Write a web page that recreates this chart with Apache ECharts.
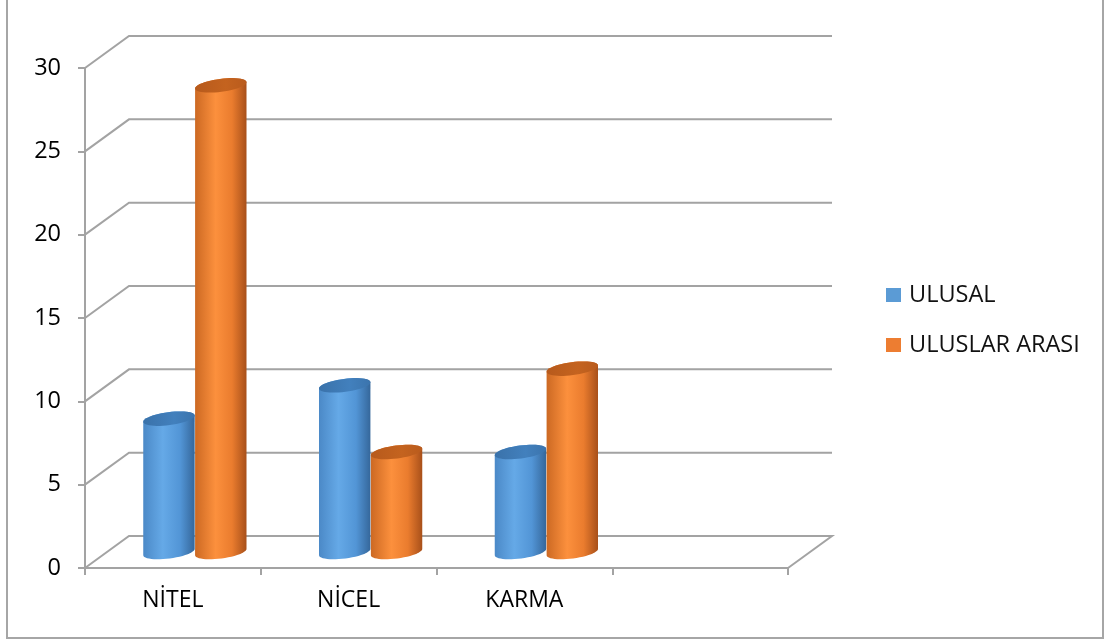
<!DOCTYPE html>
<html>
<head>
<meta charset="utf-8">
<script src="https://cdn.jsdelivr.net/npm/echarts@6/dist/echarts.min.js"></script>
<style>
  html, body { margin: 0; padding: 0; background: #ffffff; }
  #chart { width: 1112px; height: 641px; }
</style>
</head>
<body>
<div id="chart"></div>
<script>
// Study types and counts of national vs. international publications
const categories = ['NİTEL', 'NİCEL', 'KARMA', ''];
const ulusal = [8, 10, 6];
const uluslarArasi = [28, 6, 11];
const yTicks = [0, 5, 10, 15, 20, 25, 30];
const seriesNames = ['ULUSAL', 'ULUSLAR ARASI'];

// Oblique offset between the front plane and the back wall (pixels)
const DEPTH_X = 44;
const DEPTH_Y = -32;
const GRID_COLOR = '#a3a3a3';
const FONT = 'Open Sans';

const palettes = [
  {
    legend: '#5b9bd5',
    body: [[0, '#4b89c7'], [0.38, '#65a9e7'], [0.72, '#5295d6'], [1, '#35679b']],
    top: [[0, '#3a72aa'], [0.6, '#4280bd'], [1, '#3b74ad']]
  },
  {
    legend: '#ed7d31',
    body: [[0, '#cc6923'], [0.4, '#fc903d'], [0.72, '#ea7c2e'], [1, '#a8501a']],
    top: [[0, '#b75a1c'], [0.6, '#c4631f'], [1, '#b95b1d']]
  }
];

function grad(stops) {
  return new echarts.graphic.LinearGradient(0, 0, 1, 0,
    stops.map(s => ({ offset: s[0], color: s[1] })));
}

// Points on a rotated ellipse between parameters t0 and t1
function arc(cx, cy, a, b, rot, t0, t1, n) {
  const pts = [];
  const c = Math.cos(rot), s = Math.sin(rot);
  for (let i = 0; i <= n; i++) {
    const t = t0 + (t1 - t0) * i / n;
    const ex = a * Math.cos(t), ey = b * Math.sin(t);
    pts.push([cx + ex * c - ey * s, cy + ex * s + ey * c]);
  }
  return pts;
}

// Cylinder bar standing half way into the depth of the plot
function cylinderRenderer(seriesIndex) {
  const pal = palettes[seriesIndex];
  return function (params, api) {
    const idx = api.value(0);
    const val = api.value(1);
    const top = api.coord([idx, val]);
    const base = api.coord([idx, 0]);
    const band = api.size([1, 0])[0];
    const w = band * 0.295;
    const cx = top[0] + (seriesIndex === 0 ? -w / 2 : w / 2) + DEPTH_X / 2;
    const yTop = top[1] + DEPTH_Y / 2;
    const yBase = base[1] + DEPTH_Y / 2;
    const a = w / 2, b = 6.5, rot = -0.13;
    const body = arc(cx, yBase, a, b, rot, 0, Math.PI, 24)
      .concat(arc(cx, yTop, a, b, rot, Math.PI, 2 * Math.PI, 24));
    const cap = arc(cx, yTop, a, b, rot, 0, 2 * Math.PI, 48);
    return {
      type: 'group',
      children: [
        { type: 'polygon', shape: { points: body }, style: { fill: grad(pal.body) } },
        { type: 'polygon', shape: { points: cap }, style: { fill: grad(pal.top) } }
      ]
    };
  };
}

// Back wall gridlines with their diagonals to the front value axis
function wallRenderer(params, api) {
  const cs = params.coordSys;
  const v = api.value(1);
  const y = api.coord([0, v])[1];
  const left = cs.x, right = cs.x + cs.width;
  const pts = [[left, y], [left + DEPTH_X, y + DEPTH_Y], [right + DEPTH_X, y + DEPTH_Y]];
  if (v === 0) pts.push([right, y]);
  return {
    type: 'polyline',
    shape: { points: pts },
    style: { stroke: GRID_COLOR, lineWidth: 2, fill: 'none' }
  };
}

const chart = echarts.init(document.getElementById('chart'), null, { renderer: 'canvas' });

chart.setOption({
  animation: false,
  backgroundColor: '#ffffff',
  textStyle: { fontFamily: FONT },
  graphic: [{
    type: 'rect',
    shape: { x: 7, y: -10, width: 1096, height: 648 },
    style: { fill: 'none', stroke: '#a6a6a6', lineWidth: 2 },
    silent: true,
    z: -10
  }],
  legend: {
    orient: 'vertical',
    left: 886,
    top: 283,
    padding: 0,
    itemWidth: 15,
    itemHeight: 14,
    itemGap: 26,
    icon: 'rect',
    data: seriesNames,
    textStyle: { fontFamily: FONT, fontSize: 23.5, color: '#111111', lineHeight: 24, padding: [0, 0, 0, 3] }
  },
  grid: { left: 85, top: 68, width: 703, height: 500 },
  xAxis: {
    type: 'category',
    data: categories,
    boundaryGap: true,
    axisLine: { show: true, lineStyle: { color: GRID_COLOR, width: 2 } },
    axisTick: { show: true, length: 7, lineStyle: { color: GRID_COLOR, width: 2 } },
    axisLabel: { fontFamily: FONT, fontSize: 23, color: '#000000', margin: 21 },
    splitLine: { show: false }
  },
  yAxis: {
    type: 'value',
    min: 0,
    max: 30,
    interval: 5,
    axisLine: { show: true, lineStyle: { color: GRID_COLOR, width: 2 } },
    axisTick: { show: true, length: 7, lineStyle: { color: GRID_COLOR, width: 2 } },
    axisLabel: { fontFamily: FONT, fontSize: 23.5, color: '#000000', margin: 24 },
    splitLine: { show: false }
  },
  series: [
    {
      type: 'custom',
      name: 'wall',
      silent: true,
      z: 1,
      renderItem: wallRenderer,
      encode: { x: 0, y: 1 },
      data: yTicks.map(v => [0, v])
    },
    {
      type: 'custom',
      name: seriesNames[0],
      z: 2,
      itemStyle: { color: palettes[0].legend },
      renderItem: cylinderRenderer(0),
      encode: { x: 0, y: 1 },
      data: ulusal.map((v, i) => [i, v])
    },
    {
      type: 'custom',
      name: seriesNames[1],
      z: 3,
      itemStyle: { color: palettes[1].legend },
      renderItem: cylinderRenderer(1),
      encode: { x: 0, y: 1 },
      data: uluslarArasi.map((v, i) => [i, v])
    }
  ]
});
</script>
</body>
</html>
